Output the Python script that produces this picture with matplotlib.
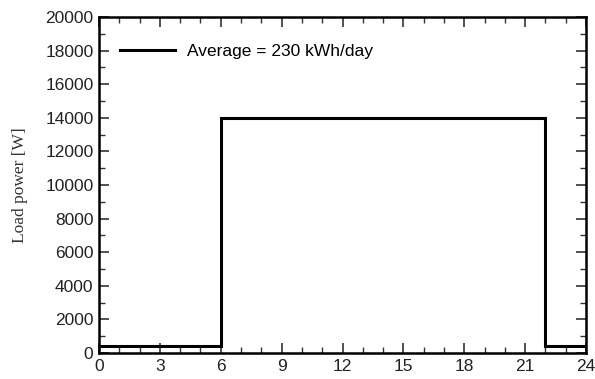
import matplotlib
matplotlib.use("Agg")
import matplotlib.pyplot as plt
from matplotlib.ticker import MultipleLocator

hours = [0, 6, 6, 22, 22, 24]
load_w = [400, 400, 14000, 14000, 400, 400]
legend_label = "Average = 230 kWh/day"

fig = plt.figure(figsize=(5.95, 3.79), dpi=100)
ax = fig.add_axes([99/595, 1 - 353/379, (586 - 99)/595, (353 - 17)/379])

ax.plot(hours, load_w, color="black", lw=2.2, label=legend_label, solid_joinstyle="miter")
ax.set_xlim(0, 24)
ax.set_ylim(0, 20000)
ax.xaxis.set_major_locator(MultipleLocator(3))
ax.xaxis.set_minor_locator(MultipleLocator(1))
ax.yaxis.set_major_locator(MultipleLocator(2000))
ax.yaxis.set_minor_locator(MultipleLocator(1000))
ax.tick_params(which="both", direction="in", top=True, right=True, color="#333333")
ax.tick_params(which="major", length=7, width=1.2, labelsize=12.5, pad=4)
ax.tick_params(which="minor", length=4, width=1.0)
for lab in ax.get_xticklabels() + ax.get_yticklabels():
    lab.set_family("Liberation Sans")
    lab.set_color("#222222")
for s in ax.spines.values():
    s.set_linewidth(1.8)

ax.set_ylabel("Load power [W]", family="Liberation Serif", fontsize=12.5, color="#333333")
ax.yaxis.set_label_coords(-71/487, 0.5)
leg = ax.legend(loc="upper left", frameon=False, prop={"family": "Liberation Sans", "size": 12.5},
                handlelength=3.15, handletextpad=0.7, borderpad=0, borderaxespad=0,
                bbox_to_anchor=(21/487, 1 - 27/336))

fig.savefig("out.png", dpi=100)
